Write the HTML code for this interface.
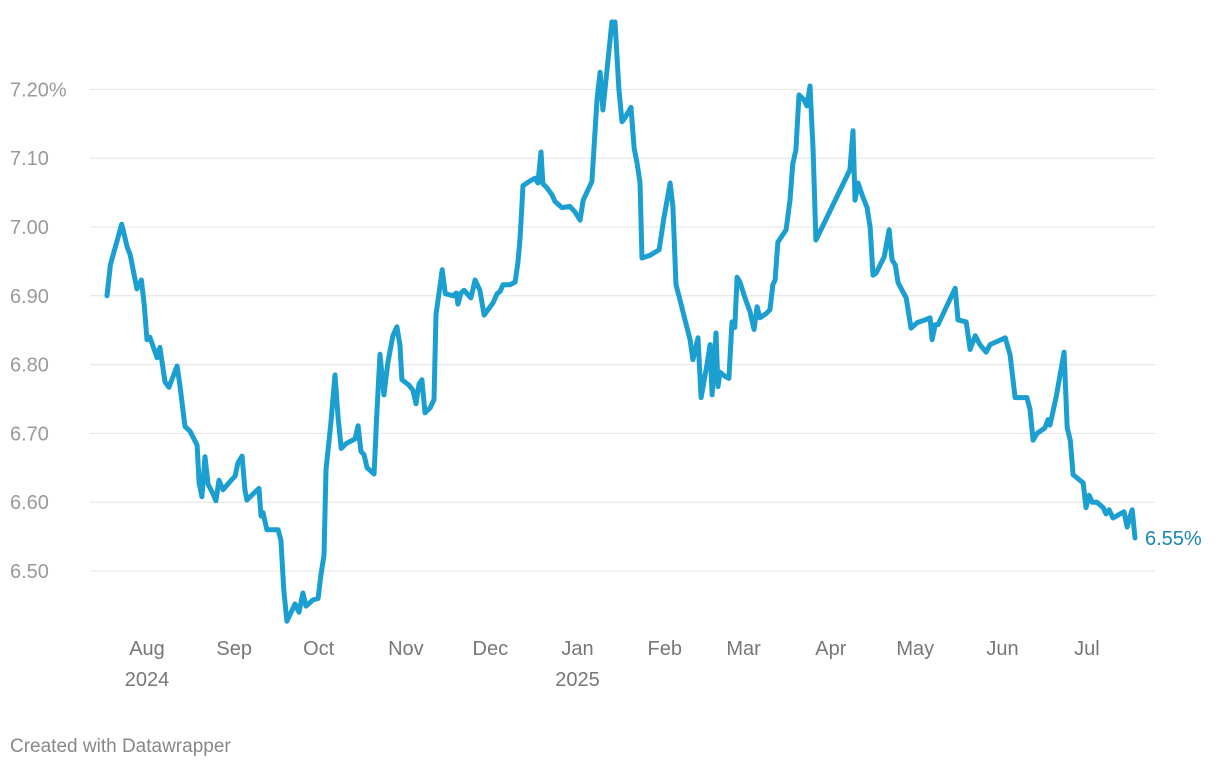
<!DOCTYPE html>
<html><head><meta charset="utf-8"><style>
html,body{margin:0;padding:0;background:#fff;}
body{width:1220px;height:768px;overflow:hidden;font-family:"Liberation Sans",sans-serif;}
svg text{font-family:"Liberation Sans",sans-serif;}
</style></head><body>
<svg id="chart" width="1220" height="768" viewBox="0 0 1220 768">
<g id="grid"></g>
<g id="yticks"></g>
<g id="xticks"></g>
<g id="series"></g>
<text x="10" y="752" font-size="19" fill="#888">Created with Datawrapper</text>
</svg>
<script>
// days since Aug 1 2024
const days=[-14.2,-13,-9,-7,-6,-3.6,-2,-1,0,1,3.6,4.6,6.4,7.8,10.7,11.7,13.5,15.3,17.8,18.5,19.5,20.6,21.7,23.5,24.5,25.6,27,29.5,31.3,32.3,33.8,34.8,35.5,37.7,39.8,40.5,41.2,42.6,44.4,46.6,47.6,48.6,49.7,51.2,52.6,54,55.4,56.5,59,60.8,61.8,62.9,63.6,65.4,66.8,67.9,69,70.7,72.5,73.9,75,76,77.1,78.2,80.7,81.7,82.8,84.2,85.6,87.4,88.8,89.9,90.6,93.1,94.5,95.6,96.7,97.7,98.8,100.6,102,102.7,104.2,104.9,106,108.8,109.9,110.5,111.6,112.7,115.1,116.6,118.3,119.8,121.2,123,124.4,125.4,126.5,129,130.8,131.8,132.6,133.6,136.1,137.9,138.9,140,140.7,142.1,143.9,145,147.5,150.3,152.1,153.9,155,158.1,159.9,161,162,163.1,165.2,166.3,167.7,168.8,169.9,172,173.1,174.1,175.2,175.9,178.8,182,183.7,185.9,186.9,188,189.4,191.2,193,194,195.8,196.9,199,200.1,200.8,202.2,202.9,203.6,205.4,206.8,207.9,208.9,209.7,210.7,212.5,214.3,215.7,216.8,217.8,220,221.4,222.4,223.2,224.2,227.1,228.5,229.5,230.6,231.7,233.4,234.5,235.6,236.7,237.7,249.8,250.9,251.6,252.7,254.1,255.9,257,258,259.1,262,263.7,264.8,265.9,266.9,269.8,271.5,273.7,276.5,278.3,279,280.1,281.1,287.2,288.2,291.1,292.5,294.3,296,298.2,299.6,305,306.7,308.5,312.7,313.8,314.9,316.3,319.1,320.2,320.9,323.1,324.5,325.9,327,328.1,329.1,332.7,333.7,334.8,335.9,337.6,339.8,340.8,341.9,343.3,345.8,347.2,348.3,349.4,350.1,351.1];
const rates=[6.90,6.945,7.004,6.97,6.96,6.91,6.923,6.887,6.836,6.84,6.81,6.825,6.775,6.767,6.798,6.77,6.71,6.703,6.683,6.628,6.608,6.666,6.626,6.612,6.602,6.632,6.618,6.63,6.638,6.657,6.667,6.618,6.603,6.612,6.62,6.58,6.585,6.56,6.56,6.56,6.545,6.472,6.427,6.44,6.452,6.44,6.468,6.449,6.458,6.46,6.494,6.523,6.647,6.717,6.785,6.723,6.678,6.685,6.689,6.692,6.711,6.674,6.669,6.65,6.641,6.731,6.815,6.756,6.803,6.842,6.855,6.828,6.778,6.77,6.763,6.743,6.772,6.778,6.73,6.737,6.749,6.873,6.916,6.938,6.903,6.9,6.904,6.888,6.904,6.908,6.897,6.923,6.908,6.872,6.88,6.89,6.903,6.906,6.916,6.916,6.92,6.948,6.984,7.06,7.067,7.071,7.064,7.109,7.063,7.057,7.047,7.037,7.028,7.03,7.022,7.01,7.039,7.066,7.185,7.225,7.17,7.214,7.298,7.298,7.2,7.153,7.159,7.174,7.115,7.094,7.065,6.955,6.959,6.967,7.013,7.064,7.03,6.916,6.894,6.865,6.836,6.807,6.839,6.752,6.8,6.829,6.756,6.846,6.768,6.789,6.783,6.78,6.862,6.854,6.927,6.92,6.897,6.877,6.851,6.884,6.868,6.874,6.88,6.916,6.923,6.978,6.996,7.039,7.092,7.112,7.192,7.185,7.176,7.205,7.112,6.981,7.083,7.14,7.039,7.064,7.047,7.028,6.999,6.93,6.933,6.957,6.996,6.952,6.945,6.919,6.897,6.853,6.861,6.865,6.868,6.836,6.858,6.858,6.911,6.865,6.862,6.822,6.842,6.829,6.818,6.829,6.839,6.814,6.752,6.752,6.735,6.69,6.7,6.708,6.72,6.712,6.753,6.785,6.818,6.708,6.69,6.64,6.628,6.592,6.61,6.6,6.6,6.592,6.583,6.589,6.577,6.583,6.586,6.564,6.58,6.589,6.548];
const yTicks=[6.5,6.6,6.7,6.8,6.9,7.0,7.1,7.2];
const yTickLabels=["6.50","6.60","6.70","6.80","6.90","7.00","7.10","7.20%"];
const monthDays=[0,31,61,92,122,153,184,212,243,273,304,334];
const monthLabels=["Aug","Sep","Oct","Nov","Dec","Jan","Feb","Mar","Apr","May","Jun","Jul"];
const yearLabels=["2024","","","","","2025","","","","","",""];
const lastLabel="6.55%";

const NS="http://www.w3.org/2000/svg";
const x=d=>147+d*2.814;
const y=v=>571-(v-6.5)*688;
function mk(tag,attrs,parent){const e=document.createElementNS(NS,tag);for(const k in attrs)e.setAttribute(k,attrs[k]);parent.appendChild(e);return e;}
const grid=document.getElementById('grid'),yt=document.getElementById('yticks'),xt=document.getElementById('xticks'),ser=document.getElementById('series');
yTicks.forEach((v,i)=>{
  const l=mk('line',{x1:90,x2:1155,y1:y(v),y2:y(v),stroke:'#e3e3e3','stroke-width':1},grid);
  
  
  const t=mk('text',{x:10,y:y(v)+7,'font-size':20,fill:'#9a9a9a'},yt);
  t.textContent=yTickLabels[i];
  
  
});
monthDays.forEach((d,i)=>{
  const t=mk('text',{x:x(d),y:655,'font-size':20,fill:'#777','text-anchor':'middle'},xt);
  t.textContent=monthLabels[i];
  
  
  if(yearLabels[i]){
    const t2=mk('text',{x:x(d),y:686,'font-size':20,fill:'#777','text-anchor':'middle'},xt);
    t2.textContent=yearLabels[i];
    
    
  }
});
const pts=days.map((d,i)=>x(d).toFixed(1)+','+y(rates[i]).toFixed(1)).join(' ');
const pl=mk('polyline',{points:pts,fill:'none',stroke:'#1a9fd0','stroke-width':5,'stroke-linejoin':'round','stroke-linecap':'round'},ser);


const n=days.length-1;
const lab=mk('text',{x:x(days[n])+10,y:y(rates[n])+7,'font-size':20,fill:'#1b87b3'},ser);
lab.textContent=lastLabel;


</script>
</body></html>
